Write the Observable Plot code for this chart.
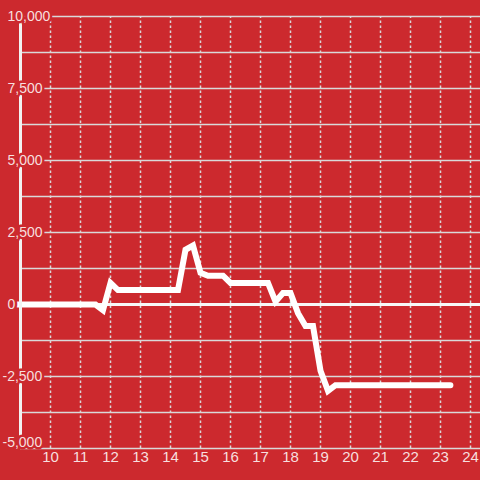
<!DOCTYPE html>
<html>
<head>
<meta charset="utf-8">
<script src="https://cdn.jsdelivr.net/npm/d3@7"></script>
<script src="https://cdn.jsdelivr.net/npm/@observablehq/plot@0.6"></script>
<style>
  html, body { margin: 0; padding: 0; background: #cc292e; }
</style>
</head>
<body>
<div id="chart"></div>
<script>
const hours  = [8.9, 11.5, 11.75, 12, 12.25, 14.25, 14.5, 14.75, 15, 15.25, 15.75, 16, 17.25, 17.5, 17.75, 18, 18.25, 18.5, 18.75, 19, 19.25, 19.5, 23.33];
const values = [0, 0, -200, 750, 500, 500, 1900, 2050, 1100, 1000, 1000, 750, 750, 100, 400, 400, -300, -750, -750, -2300, -3000, -2800, -2800];

const xTicks = [10, 11, 12, 13, 14, 15, 16, 17, 18, 19, 20, 21, 22, 23, 24];
const yTicks = [-5000, -2500, 0, 2500, 5000, 7500, 10000];
const yLabels = ["-5,000", "-2,500", "0", "2,500", "5,000", "7,500", "10,000"];
const yGrid = [-5000, -3750, -2500, -1250, 0, 1250, 2500, 3750, 5000, 6250, 7500, 8750, 10000];

const bg = "#cc292e";
const labelFill = "#f7dfdf";
const gridColor = "#d9d9d9";

const data = hours.map((h, i) => ({h, v: values[i]}));
const yLab = yTicks.map((v, i) => ({v, label: yLabels[i]}));
const yLabPos = yLab.filter(d => d.v >= 0);
const yLabNeg = yLab.filter(d => d.v < 0 && d.v > -5000);
const yLabBottom = yLab.filter(d => d.v === -5000);

const xMin = 8.9, xMax = 24.333;
const labelStyle = {fill: labelFill, stroke: bg, strokeWidth: 5, paintOrder: "stroke", fontSize: 14,
  frameAnchor: "left", textAnchor: "start"};

const chart = Plot.plot({
  width: 480,
  height: 480,
  marginLeft: 17,
  marginRight: 0,
  marginTop: 16,
  marginBottom: 32,
  x: {domain: [xMin, xMax], axis: null},
  y: {domain: [-5000, 10000], axis: null},
  style: {background: bg, fontFamily: "'Liberation Sans', Arial, sans-serif"},
  marks: [
    Plot.ruleY(yGrid, {y: d => d, x1: 9, x2: xMax, stroke: gridColor, strokeWidth: 1.5}),
    Plot.ruleX(xTicks, {x: d => d, y1: -5000, y2: 10000, stroke: gridColor, strokeWidth: 1.5, strokeDasharray: "2.5,2.5"}),
    Plot.ruleY([0], {y: d => d, x1: xMin, x2: xMax, stroke: "#f7f7f7", strokeWidth: 3}),
    Plot.line(data, {x: "h", y: "v", stroke: "white", strokeWidth: 6, strokeLinejoin: "miter", strokeMiterlimit: 4}),
    Plot.ruleX([9], {x: d => d, y1: -5000, y2: 10000, stroke: "#f2f2f2", strokeWidth: 3}),
    Plot.text(yLabPos, {y: "v", text: "label", dx: -10, ...labelStyle}),
    Plot.text(yLabNeg, {y: "v", text: "label", dx: -15, ...labelStyle}),
    Plot.text(yLabBottom, {y: "v", text: "label", dx: -15, dy: -6, ...labelStyle}),
    Plot.text(xTicks, {x: d => d, text: d => String(d), frameAnchor: "bottom", dy: 13,
      fill: labelFill, fontSize: 15})
  ]
});
document.getElementById("chart").appendChild(chart);
</script>
</body>
</html>
